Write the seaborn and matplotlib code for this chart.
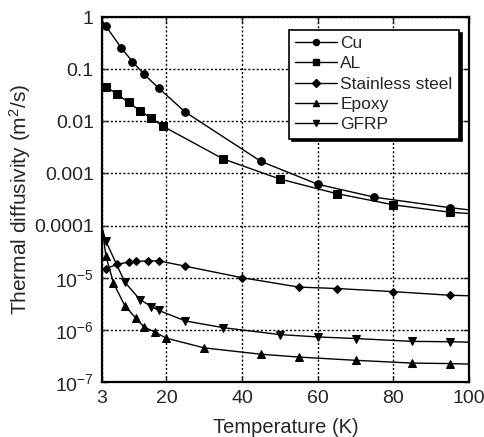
#!/usr/bin/env python3
# thermal diffusivity vs temperature, log y axis
import seaborn as sns
import matplotlib.pyplot as plt
import pandas as pd
from matplotlib.lines import Line2D
from matplotlib.ticker import FixedLocator, FixedFormatter, NullLocator

# values (T in K, diffusivity in m2/s)
cu_T = [4, 8, 11, 14, 18, 25, 45, 60, 75, 95]
cu_vals = [0.67, 0.26, 0.14, 0.081, 0.043, 0.015, 0.0017, 0.00062, 0.00035, 0.00022]
cu_ends = [0.85, 0.0002]

al_T = [4, 7, 10, 13, 16, 19, 35, 50, 65, 80, 95]
al_vals = [0.046, 0.033, 0.023, 0.016, 0.0114, 0.0081, 0.0019, 0.00078, 0.00041, 0.00025, 0.00018]
al_ends = [0.05, 0.00017]

ss_T = [4, 7, 10, 12, 15, 18, 25, 40, 55, 65, 80, 95]
ss_vals = [1.5e-5, 1.8e-5, 2.0e-5, 2.05e-5, 2.1e-5, 2.1e-5, 1.66e-5, 1.0e-5, 6.6e-6, 6.2e-6, 5.4e-6, 4.6e-6]
ss_ends = [1.4e-5, 4.5e-6]

ep_T = [4, 6, 9, 12, 14, 17, 20, 30, 45, 55, 70, 85, 95]
ep_vals = [2.6e-5, 7.9e-6, 2.9e-6, 1.65e-6, 1.15e-6, 9e-7, 6.9e-7, 4.5e-7, 3.4e-7, 3.0e-7, 2.6e-7, 2.3e-7, 2.25e-7]
ep_ends = [9e-5, 2.2e-7]

gf_T = [4, 9, 13, 16, 18, 25, 35, 50, 60, 70, 85, 95]
gf_vals = [5e-5, 8.2e-6, 3.8e-6, 2.8e-6, 2.35e-6, 1.48e-6, 1.1e-6, 8.1e-7, 7.3e-7, 6.8e-7, 6.0e-7, 5.9e-7]
gf_ends = [9e-5, 5.8e-7]

names = ["Cu", "AL", "Stainless steel", "Epoxy", "GFRP"]
markers = ["o", "s", "D", "^", "v"]
msizes = [5.5, 6, 4.5, 5.5, 5.5]

x_ticks = [3, 20, 40, 60, 80, 100]
y_ticks = [1, 0.1, 0.01, 0.001, 0.0001, 1e-5, 1e-6, 1e-7]
y_tick_labels = ["1", "0.1", "0.01", "0.001", "0.0001", "$10^{-5}$", "$10^{-6}$", "$10^{-7}$"]

series = [(cu_T, cu_vals, cu_ends), (al_T, al_vals, al_ends), (ss_T, ss_vals, ss_ends),
          (ep_T, ep_vals, ep_ends), (gf_T, gf_vals, gf_ends)]

sns.set_style("ticks")
plt.rcParams['font.family'] = ['Liberation Sans', 'DejaVu Sans']
plt.rcParams['mathtext.fontset'] = 'custom'
plt.rcParams['mathtext.rm'] = 'Liberation Sans'
plt.rcParams['mathtext.it'] = 'Liberation Sans'

fig = plt.figure(figsize=(4.84, 4.37), dpi=100)
ax = fig.add_axes([0.211, 0.126, 0.758, 0.835])

handles = []
for name, (T, vals, ends), mk, ms in zip(names, series, markers, msizes):
    # curve runs from the left edge to the right edge
    line_df = pd.DataFrame({"T": [3] + T + [100], "D": [ends[0]] + vals + [ends[1]]})
    pts_df = pd.DataFrame({"T": T, "D": vals})
    sns.lineplot(data=line_df, x="T", y="D", ax=ax, color="black", lw=1.0, legend=False)
    sns.lineplot(data=pts_df, x="T", y="D", ax=ax, color="black", lw=0, marker=mk,
                 markersize=ms, markeredgecolor="black", legend=False)
    handles.append(Line2D([], [], color="black", lw=1.0, marker=mk, markersize=ms * 0.8, label=name))

ax.set_yscale("log")
ax.set_xlim(3, 100)
ax.set_ylim(1e-7, 1)
ax.xaxis.set_major_locator(FixedLocator(x_ticks))
ax.yaxis.set_major_locator(FixedLocator(y_ticks))
ax.yaxis.set_major_formatter(FixedFormatter(y_tick_labels))
ax.yaxis.set_minor_locator(NullLocator())
ax.tick_params(direction="in", length=4, width=1, top=True, right=True, labelsize=14, pad=6)
ax.grid(True, which="major", color="black", linestyle=(0, (1.5, 1.5)), linewidth=1.0)
for s in ax.spines.values():
    s.set_linewidth(1.6)
    s.set_color("black")

ax.set_xlabel("Temperature (K)", fontsize=14.5, labelpad=8)
ax.set_ylabel("Thermal diffusivity (m$^2$/s)", fontsize=15, labelpad=1)

leg = ax.legend(handles=handles, loc="upper right", bbox_to_anchor=(0.972, 0.965), fontsize=12.5,
                frameon=True, fancybox=False, edgecolor="black", framealpha=1,
                handlelength=2.4, handletextpad=0.2, borderpad=0.35, labelspacing=0.3,
                borderaxespad=0, shadow={'color': 'black', 'alpha': 1})
leg.get_frame().set_linewidth(1.2)

fig.savefig("out.png", dpi=100)
